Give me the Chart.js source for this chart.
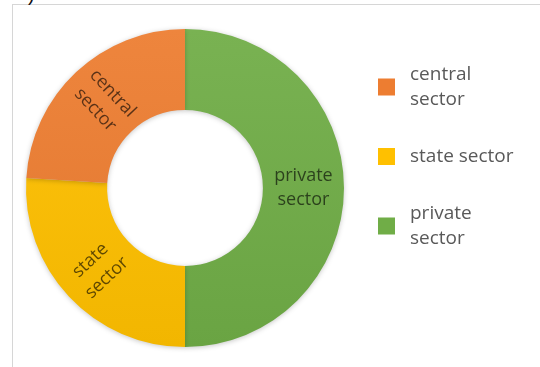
<!DOCTYPE html>
<html>
<head>
<meta charset="utf-8">
<script src="https://cdn.jsdelivr.net/npm/chart.js@4.4.1/dist/chart.umd.min.js"></script>
<style>
    html, body { margin: 0; padding: 0; background: #fff; overflow: hidden; }
    #wrap { position: relative; width: 540px; height: 367px; }
    #frame { position: absolute; left: 12px; top: 4px; width: 600px; height: 400px; border: 1px solid #d6d6d6; }
    #paren { position: absolute; left: 28px; top: -16px; font: 20px/20px 'Liberation Sans', sans-serif; color: #111; }
    canvas { position: absolute; left: 0; top: 0; }
</style>
</head>
<body>
<div id="wrap">
    <div id="frame"></div>
    <span id="paren">)</span>
    <canvas id="myChart" width="540" height="367"></canvas>
</div>
<script>
'use strict';

// legend order
let sectors = ['central sector', 'state sector', 'private sector'];
let shares = [24, 26, 50];
let colors = ['#ED7D31', '#FFC000', '#70AD47'];

// the ring runs clockwise from the top: private, state, central
let ringLabels = sectors.slice().reverse();
let ringData = shares.slice().reverse();
let ringColors = colors.slice().reverse();

function shade(hex, amt) {
    let n = parseInt(hex.slice(1), 16);
    let r = (n >> 16) & 255, g = (n >> 8) & 255, b = n & 255;
    let f = c => Math.max(0, Math.min(255, Math.round(amt > 0 ? c + (255 - c) * amt : c * (1 + amt))));
    return `rgb(${f(r)}, ${f(g)}, ${f(b)})`;
}

function sliceFill(context) {
    let c = ringColors[context.dataIndex];
    let area = context.chart.chartArea;
    if (!area) return c;
    let g = context.chart.ctx.createLinearGradient(0, area.top, 0, area.bottom);
    g.addColorStop(0, shade(c, 0.06));
    g.addColorStop(1, shade(c, -0.05));
    return g;
}

// soft shadow under the ring
const ringShadow = {
    id: 'ringShadow',
    beforeDatasetsDraw(chart) {
        let ctx = chart.ctx;
        ctx.save();
        ctx.shadowColor = 'rgba(0, 0, 0, 0.22)';
        ctx.shadowBlur = 5;
        ctx.shadowOffsetY = 1;
    },
    afterDatasetsDraw(chart) {
        chart.ctx.restore();
    }
};

// names written inside each slice, along the radius
const sliceLabels = {
    id: 'sliceLabels',
    afterDatasetsDraw(chart) {
        let ctx = chart.ctx;
        let meta = chart.getDatasetMeta(0);
        ctx.save();
        ctx.font = '18px "Open Sans"';
        ctx.fillStyle = 'rgba(0, 0, 0, 0.62)';
        ctx.textAlign = 'center';
        ctx.textBaseline = 'middle';
        meta.data.forEach((arc, i) => {
            let p = arc.getProps(['x', 'y', 'startAngle', 'endAngle', 'innerRadius', 'outerRadius'], true);
            let mid = (p.startAngle + p.endAngle) / 2;
            let r = (p.innerRadius + p.outerRadius) / 2;
            let rot = Math.cos(mid) < -0.001 ? mid + Math.PI : mid;
            let words = chart.data.labels[i].split(' ');
            let lh = 24;
            ctx.save();
            ctx.translate(p.x + Math.cos(mid) * r, p.y + Math.sin(mid) * r);
            ctx.rotate(rot);
            words.forEach((w, k) => {
                ctx.fillText(w, 0, (k - (words.length - 1) / 2) * lh);
            });
            ctx.restore();
        });
        ctx.restore();
    }
};

// legend on the right, long names wrap onto two lines
const sideLegend = {
    id: 'sideLegend',
    afterDraw(chart) {
        let ctx = chart.ctx;
        let x = 378, box = 17, lh = 25, gap = 32;
        let y = 62;
        ctx.save();
        ctx.font = '19px "Open Sans"';
        ctx.textBaseline = 'middle';
        sectors.forEach((name, i) => {
            let lines = ctx.measureText(name).width > 112 ? name.split(' ') : [name];
            let h = lines.length * lh;
            let cy = y + h / 2;
            ctx.fillStyle = colors[i];
            ctx.fillRect(x, cy - box / 2, box, box);
            ctx.fillStyle = '#595959';
            lines.forEach((t, k) => ctx.fillText(t, x + 32, y + lh * k + lh / 2));
            y += h + gap;
        });
        ctx.restore();
    }
};

let ctx = document.getElementById('myChart').getContext('2d');
new Chart(ctx, {
    type: 'doughnut',
    data: {
        labels: ringLabels,
        datasets: [{
            data: ringData,
            backgroundColor: sliceFill,
            borderWidth: 0
        }]
    },
    options: {
        responsive: false,
        animation: false,
        devicePixelRatio: 1,
        cutout: '49%',
        layout: {
            padding: { left: 26, top: 29, right: 196, bottom: 20 }
        },
        plugins: {
            legend: { display: false },
            tooltip: { enabled: false }
        }
    },
    plugins: [ringShadow, sliceLabels, sideLegend]
});
</script>
</body>
</html>
